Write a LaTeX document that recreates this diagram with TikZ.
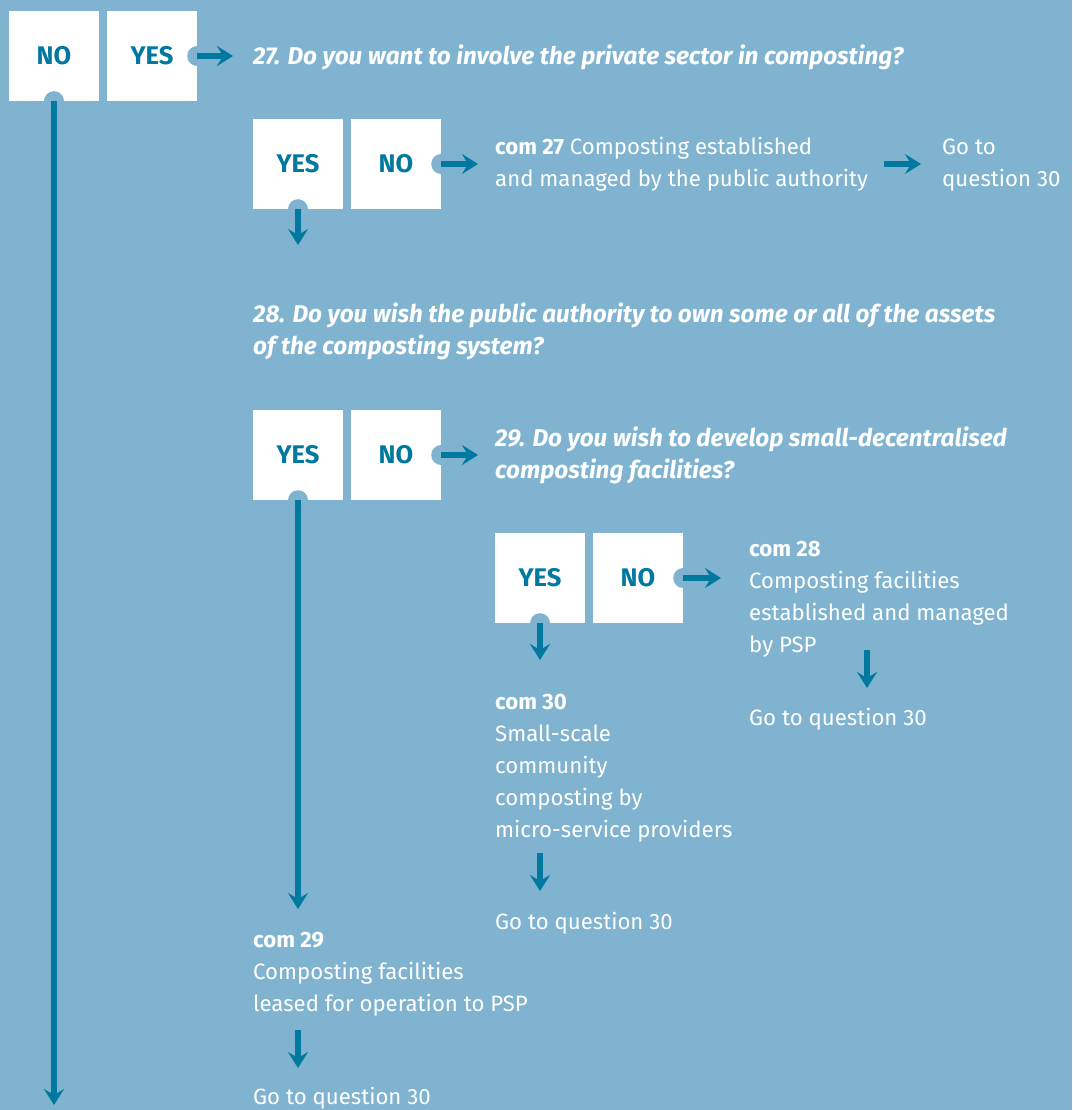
\documentclass[tikz,border=0pt]{standalone}
\usepackage{fontspec}
\setmainfont{Fira Sans}
\usetikzlibrary{arrows.meta}
\definecolor{bg}{HTML}{7FB3CF}
\definecolor{ink}{HTML}{0078A0}

\begin{document}
\begin{tikzpicture}[x=1pt,y=-1pt,
  answer/.style={fill=white, minimum size=90pt, inner sep=0pt,
    font=\fontsize{25.5}{28}\selectfont\bfseries, text=ink},
  notch/.style={fill=bg, circle, minimum size=20pt, inner sep=0pt},
  flow/.style={draw=ink, line width=5.5pt,
    -{Stealth[length=16pt,width=20pt,inset=6pt]}},
  body/.style={anchor=north west, inner sep=0pt, align=left, text=white,
    font=\fontsize{22.2}{32}\selectfont},
  question/.style={body, font=\fontsize{24.3}{32}\selectfont\bfseries\itshape},
]
% background
\fill[bg] (0,0) rectangle (1072,1110);
\useasboundingbox (0,0) rectangle (1072,1110);

% answer boxes
\node[answer] (no1)  at (54,56)   {NO};
\node[answer] (yes1) at (152,56)  {YES};
\node[answer] (yes2) at (298,164) {YES};
\node[answer] (no2)  at (396,164) {NO};
\node[answer] (yes3) at (298,455) {YES};
\node[answer] (no3)  at (396,455) {NO};
\node[answer] (yes4) at (540,578) {YES};
\node[answer] (no4)  at (638,578) {NO};

% notches where the connectors leave the boxes
\node[notch] (k1) at (no1.south) {};
\node[notch] (k2) at (yes1.east) {};
\node[notch] (k3) at (yes2.south) {};
\node[notch] (k4) at (no2.east) {};
\node[notch] (k5) at (yes3.south) {};
\node[notch] (k6) at (no3.east) {};
\node[notch] (k7) at (yes4.south) {};
\node[notch] (k8) at (no4.east) {};

% texts
\node[question] (q27) at (253,41.6) {\strut 27. Do you want to involve the private sector in composting?};
\node[body] (com27) at (495,131.6) {\strut\textbf{com 27} Composting established\\\strut and managed by the public authority};
\node[body] (go27) at (942,131.6) {\strut Go to\\\strut question 30};
\node[question] (q28) at (253,299.6) {\strut 28. Do you wish the public authority to own some or all of the assets\\\strut of the composting system?};
\node[question] (q29) at (495,423.6) {\strut 29. Do you wish to develop small-decentralised\\\strut composting facilities?};
\node[body] (com28) at (749,533.6) {\strut\textbf{com 28}\\\strut Composting facilities\\\strut established and managed\\\strut by PSP};
\node[body] (go28) at (749,702.6) {\strut Go to question 30};
\node[body] (com30) at (495,686.6) {\strut\textbf{com 30}\\\strut Small-scale\\\strut community\\\strut composting by\\\strut micro-service providers};
\node[body] (go30) at (495,906.6) {\strut Go to question 30};
\node[body] (com29) at (253,924.6) {\strut\textbf{com 29}\\\strut Composting facilities\\\strut leased for operation to PSP};
\node[body] (go29) at (253,1081.6) {\strut Go to question 30};

% free ends of connectors
\coordinate (e1) at (233,56);
\coordinate (e2) at (54,1105);
\coordinate (e3) at (298,245);
\coordinate (e4) at (478,164);
\coordinate (s5) at (884,164);
\coordinate (e5) at (921,164);
\coordinate (e6) at (298,909);
\coordinate (e7) at (478,455);
\coordinate (e8) at (540,660);
\coordinate (e9) at (721,578);
\coordinate (s10) at (867,650);
\coordinate (e10) at (867,688);
\coordinate (s11) at (540,853);
\coordinate (e11) at (540,891);
\coordinate (s12) at (298,1030);
\coordinate (e12) at (298,1068);

% connectors
\draw[flow] (yes1.east) -- (e1);
\draw[flow] (no1.south) -- (e2);
\draw[flow] (yes2.south) -- (e3);
\draw[flow] (no2.east) -- (e4);
\draw[flow] (s5) -- (e5);
\draw[flow] (yes3.south) -- (e6);
\draw[flow] (no3.east) -- (e7);
\draw[flow] (yes4.south) -- (e8);
\draw[flow] (no4.east) -- (e9);
\draw[flow] (s10) -- (e10);
\draw[flow] (s11) -- (e11);
\draw[flow] (s12) -- (e12);
\end{tikzpicture}
\end{document}
